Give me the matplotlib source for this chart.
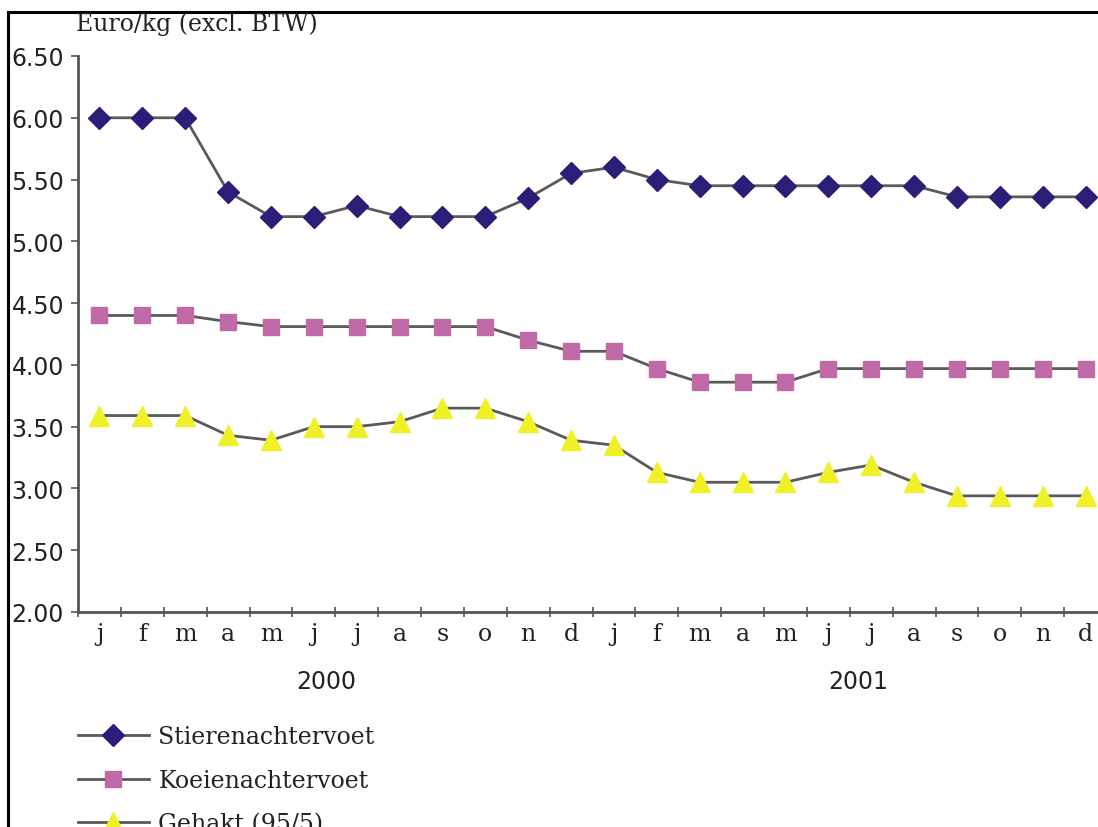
import matplotlib
matplotlib.use("Agg")
import matplotlib.pyplot as plt
from matplotlib.lines import Line2D

months = ["j", "f", "m", "a", "m", "j", "j", "a", "s", "o", "n", "d",
          "j", "f", "m", "a", "m", "j", "j", "a", "s", "o", "n", "d"]
years = ["2000", "2001"]
y_ticks = [2.00, 2.50, 3.00, 3.50, 4.00, 4.50, 5.00, 5.50, 6.00, 6.50]

stiere = [6.00, 6.00, 6.00, 5.40, 5.20, 5.20, 5.29, 5.20, 5.20, 5.20, 5.35, 5.55,
          5.60, 5.50, 5.45, 5.45, 5.45, 5.45, 5.45, 5.45, 5.36, 5.36, 5.36, 5.36]
koeie = [4.40, 4.40, 4.40, 4.35, 4.31, 4.31, 4.31, 4.31, 4.31, 4.31, 4.20, 4.11,
         4.11, 3.97, 3.86, 3.86, 3.86, 3.97, 3.97, 3.97, 3.97, 3.97, 3.97, 3.97]
gehakt = [3.59, 3.59, 3.59, 3.43, 3.39, 3.50, 3.50, 3.54, 3.65, 3.65, 3.54, 3.39,
          3.35, 3.13, 3.05, 3.05, 3.05, 3.13, 3.19, 3.05, 2.94, 2.94, 2.94, 2.94]
labels = ["Stierenachtervoet", "Koeienachtervoet", "Gehakt (95/5)"]

W, H = 1098, 828
fig = plt.figure(figsize=(W / 100, H / 100), dpi=100)
fig.patch.set_facecolor("white")

ax_l, ax_r, ax_b, ax_t = 78, 1107, 613, 57
ax = fig.add_axes([ax_l / W, 1 - ax_b / H, (ax_r - ax_l) / W, (ax_b - ax_t) / H])

x = list(range(len(months)))
line_col = "#5a5a5a"
ax.plot(x, stiere, color=line_col, lw=2, marker="D", ms=11,
        mfc="#2a1f78", mec="#2a1f78", label=labels[0], zorder=3)
ax.plot(x, koeie, color=line_col, lw=2, marker="s", ms=11,
        mfc="#c06aa8", mec="#c06aa8", label=labels[1], zorder=3)
ax.plot(x, gehakt, color=line_col, lw=2, marker="^", ms=14,
        mfc="#f0f028", mec="#f0f028", label=labels[2], zorder=3)

ax.set_xlim(-0.5, len(months) - 0.5)
ax.set_ylim(2.0, 6.5)
ax.set_yticks(y_ticks)
ax.set_yticklabels([f"{v:.2f}" for v in y_ticks], fontsize=17,
                   family="DejaVu Sans", color="#222222")
ax.set_xticks([i - 0.5 for i in range(len(months) + 1)])
ax.set_xticklabels([])
ax.set_xticks(x, minor=True)
ax.set_xticklabels(months, minor=True, fontsize=17, family="DejaVu Serif",
                   color="#222222")
ax.tick_params(axis="x", which="major", direction="inout", length=7,
               width=1.2, color="#555555")
ax.tick_params(axis="x", which="minor", length=0, pad=7)
ax.tick_params(axis="y", direction="out", length=5, width=1.2,
               color="#555555", pad=5)

for s in ["top", "right"]:
    ax.spines[s].set_visible(False)
for s in ["left", "bottom"]:
    ax.spines[s].set_color("#555555")
    ax.spines[s].set_linewidth(2)

for yr, xc in zip(years, [5.3, 17.7]):
    ax.text(xc, -0.125, yr, transform=ax.get_xaxis_transform(),
            ha="center", va="center", fontsize=17, family="DejaVu Sans",
            color="#222222")

fig.text(76 / W, 1 - 24 / H, "Euro/kg (excl. BTW)", ha="left", va="center",
         fontsize=17, family="DejaVu Serif", color="#222222")

leg = fig.legend(loc="upper left", bbox_to_anchor=(78 / W, 1 - 726 / H),
                 frameon=False, prop={"family": "DejaVu Serif", "size": 17},
                 handlelength=3.0, handletextpad=0.4, labelspacing=0.88,
                 borderpad=0, borderaxespad=0)
for t in leg.get_texts():
    t.set_color("#222222")

# outer frame (only left and top visible in crop)
fig.add_artist(Line2D([8 / W, 8 / W], [0, 1 - 13 / H], color="black", lw=2.2,
                      transform=fig.transFigure))
fig.add_artist(Line2D([8 / W, 1], [1 - 13 / H, 1 - 13 / H], color="black", lw=2.2,
                      transform=fig.transFigure))

fig.savefig("out.png", dpi=100)
